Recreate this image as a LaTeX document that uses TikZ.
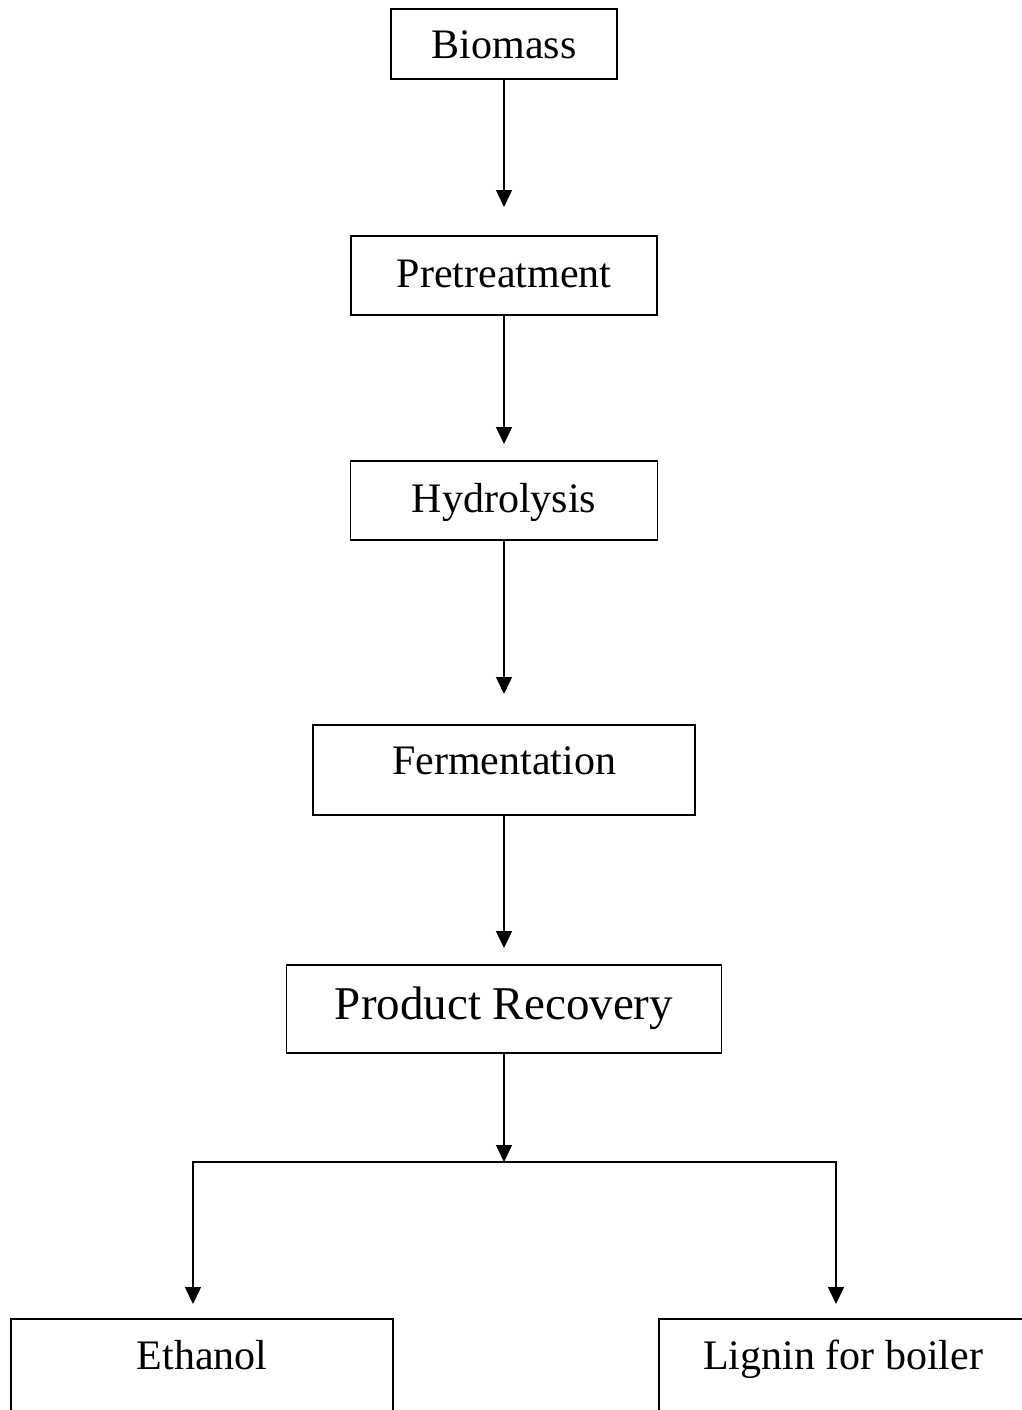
\documentclass[tikz,border=0pt]{standalone}
\usepackage{fontspec}
\setmainfont{Liberation Serif}
\usetikzlibrary{arrows.meta}
\begin{document}
\begin{tikzpicture}[x=1pt,y=-1pt,
  stepbox/.style={draw, line width=1.6pt, inner sep=0pt, outer sep=0pt,
    font=\fontsize{42}{50}\selectfont},
  bigbox/.style={stepbox, font=\fontsize{47}{56}\selectfont},
  arr/.style={line width=1.5pt, -{Triangle[length=17pt,width=16pt]}},
  link/.style={line width=1.5pt}]
\useasboundingbox (0,0) rectangle (1021,1410);
\fill[white] (0,0) rectangle (1021,1410);
\node[stepbox, minimum width=226pt, minimum height=70pt, text height=50pt, text depth=20pt] (bio) at (504,44) {Biomass};
\node[stepbox, minimum width=306pt, minimum height=79pt, text height=51pt, text depth=28pt] (pre) at (504,275.5) {Pretreatment};
\node[stepbox, minimum width=307pt, minimum height=79pt, text height=51pt, text depth=28pt] (hyd) at (504,500.5) {Hydrolysis};
\node[stepbox, minimum width=382pt, minimum height=90pt, text height=49pt, text depth=41pt] (fer) at (504,770) {Fermentation};
\node[bigbox, minimum width=435pt, minimum height=88pt, text height=54pt, text depth=34pt] (pr) at (504,1009) {Product Recovery};
\node[stepbox, minimum width=382pt, minimum height=93pt, text height=50pt, text depth=43pt] (eth) at (202,1365.5) {Ethanol};
\node[stepbox, minimum width=368pt, minimum height=93pt, text height=50pt, text depth=43pt] (lig) at (843,1365.5) {Lignin for boiler};
\coordinate (j) at (504,1162);
\coordinate (jl) at (193,1162);
\coordinate (jr) at (836,1162);
\draw[arr, shorten >=29pt] (bio) -- (pre);
\draw[arr, shorten >=17pt] (pre) -- (hyd);
\draw[arr, shorten >=31pt] (hyd) -- (fer);
\draw[arr, shorten >=17pt] (fer) -- (pr);
\draw[arr] (pr) -- (j);
\draw[link] ([xshift=-0.75pt]jl) -- ([xshift=0.75pt]jr);
\draw[arr, shorten >=15pt] (jl) -- (jl |- eth.north);
\draw[arr, shorten >=15pt] (jr) -- (jr |- lig.north);
\end{tikzpicture}
\end{document}
